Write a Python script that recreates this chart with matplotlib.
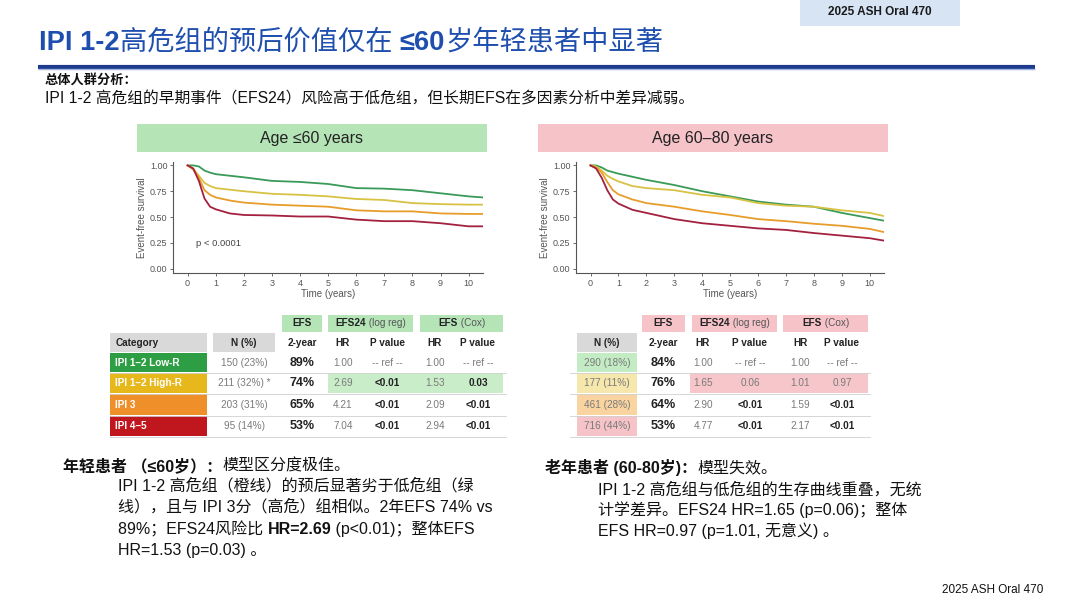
import matplotlib
matplotlib.use('Agg')
import matplotlib.pyplot as plt
from matplotlib.patches import Rectangle

plt.rcParams['font.family'] = ['Liberation Sans', 'Noto Sans CJK SC', 'DejaVu Sans']

# ---- KM curve data ----
t_years = [0, 0.2, 0.4, 0.6, 0.8, 1, 1.5, 2, 3, 4, 5, 6, 7, 8, 9, 10, 10.5]

young_low = [1, 1, 0.99, 0.95, 0.93, 0.915, 0.90, 0.885, 0.85, 0.84, 0.82, 0.78, 0.775, 0.76, 0.73, 0.70, 0.69]
young_high = [1, 0.97, 0.90, 0.83, 0.80, 0.78, 0.765, 0.75, 0.725, 0.715, 0.70, 0.675, 0.665, 0.635, 0.625, 0.62, 0.62]
young_ipi3 = [1, 0.96, 0.88, 0.76, 0.715, 0.69, 0.66, 0.64, 0.62, 0.61, 0.60, 0.565, 0.555, 0.555, 0.535, 0.53, 0.53]
young_ipi45 = [1, 0.97, 0.85, 0.68, 0.60, 0.575, 0.535, 0.52, 0.515, 0.505, 0.505, 0.475, 0.46, 0.46, 0.44, 0.41, 0.41]

old_low = [1, 1, 0.98, 0.95, 0.935, 0.92, 0.89, 0.86, 0.81, 0.75, 0.70, 0.65, 0.62, 0.60, 0.54, 0.49, 0.465]
old_high = [1, 0.99, 0.95, 0.90, 0.87, 0.845, 0.80, 0.78, 0.76, 0.715, 0.69, 0.635, 0.61, 0.60, 0.565, 0.54, 0.51]
old_ipi3 = [1, 0.98, 0.93, 0.84, 0.76, 0.72, 0.67, 0.635, 0.60, 0.555, 0.52, 0.48, 0.46, 0.435, 0.415, 0.385, 0.355]
old_ipi45 = [1, 0.97, 0.88, 0.76, 0.67, 0.63, 0.57, 0.54, 0.48, 0.44, 0.415, 0.39, 0.375, 0.345, 0.32, 0.295, 0.272]

# ---- table data ----
categories = ['IPI 1–2 Low-R', 'IPI 1–2 High-R', 'IPI 3', 'IPI 4–5']
young_n = ['150 (23%)', '211 (32%) *', '203 (31%)', '95 (14%)']
young_efs2 = ['89%', '74%', '65%', '53%']
young_hr24 = ['1.00', '2.69', '4.21', '7.04']
young_p24 = ['-- ref --', '<0.01', '<0.01', '<0.01']
young_hrcox = ['1.00', '1.53', '2.09', '2.94']
young_pcox = ['-- ref --', '0.03', '<0.01', '<0.01']

old_n = ['290 (18%)', '177 (11%)', '461 (28%)', '716 (44%)']
old_efs2 = ['84%', '76%', '64%', '53%']
old_hr24 = ['1.00', '1.65', '2.90', '4.77']
old_p24 = ['-- ref --', '0.06', '<0.01', '<0.01']
old_hrcox = ['1.00', '1.01', '1.59', '2.17']
old_pcox = ['-- ref --', '0.97', '<0.01', '<0.01']

# colores
curve_colors = ['#3a9a58', '#d8c244', '#e89d2a', '#a3203f']
cat_colors = ['#2e9e44', '#e6b81c', '#ef8f2a', '#c0161d']
old_n_colors = ['#c3ebc4', '#f6e7ad', '#f9d3a0', '#f6c4c8']
green_hdr = '#b5e5b7'
pink_hdr = '#f5c3c8'
gray_hdr = '#d9d9d9'
blue = '#1f4fae'
txt_gray = '#7a7a7a'
txt_dark = '#222222'
tfs = 7.2  # tamaño de letra de las tablas

fig = plt.figure(figsize=(10.8, 6.04), dpi=100)
bg = fig.add_axes([0, 0, 1, 1])
bg.set_xlim(0, 1080)
bg.set_ylim(604, 0)
bg.axis('off')
renderer = fig.canvas.get_renderer()


def text_width(text, size, bold):
    t = bg.text(0, 0, text, fontsize=size, fontweight='bold' if bold else 'normal')
    w = t.get_window_extent(renderer).width
    t.remove()
    return w


def runs(x, y, parts, size, color='#111111', center=False):
    """Escribe trozos de texto seguidos (normal/negrita) en una línea."""
    if center:
        x -= sum(text_width(p[0], size, p[1]) for p in parts) / 2
    for text, bold, *col in parts:
        t = bg.text(x, y, text, fontsize=size, va='center', ha='left',
                    fontweight='bold' if bold else 'normal',
                    color=col[0] if col else color)
        x += t.get_window_extent(renderer).width


# ---- cabecera ----
bg.add_patch(Rectangle((800, 0), 160, 26, facecolor='#d6e4f4', edgecolor='none'))
bg.text(880, 12, '2025 ASH Oral 470', fontsize=8.5, fontweight='bold', ha='center', va='center', color='#1a1a1a')
runs(39, 43, [('IPI 1-2', True), ('高危组的预后价值仅在 ', False), ('≤60', True), ('岁年轻患者中显著', False)],
     19.6, color=blue)
bg.plot([38, 1035], [66.5, 66.5], color='#1c3a8e', lw=3, solid_capstyle='butt')
bg.plot([38, 1035], [68.6, 68.6], color='#9db3e0', lw=1, solid_capstyle='butt')
bg.text(45, 80, '总体人群分析：', fontsize=9.5, fontweight='bold', va='center', color='#111111')
bg.text(45, 99, 'IPI 1-2 高危组的早期事件（EFS24）风险高于低危组，但长期EFS在多因素分析中差异减弱。',
        fontsize=11.3, va='center', color='#111111')

# ---- títulos de los paneles ----
bg.add_patch(Rectangle((137, 124), 350, 28, facecolor=green_hdr, edgecolor='none'))
bg.text(312, 138, 'Age ≤60 years', fontsize=11.5, ha='center', va='center', color='#222222')
bg.add_patch(Rectangle((538, 124), 350, 28, facecolor=pink_hdr, edgecolor='none'))
bg.text(713, 138, 'Age 60–80 years', fontsize=11.5, ha='center', va='center', color='#222222')


def km_panel(rect, curves, ptext=None):
    ax = fig.add_axes(rect)
    ax.patch.set_alpha(0)
    for s, c in zip(curves, curve_colors):
        ax.plot(t_years, s, color=c, lw=1.3)
    ax.set_xlim(-0.52, 10.51)
    ax.set_ylim(-0.042, 1.033)
    ax.set_xticks(range(0, 11))
    ax.set_yticks([0, 0.25, 0.5, 0.75, 1.0])
    ax.set_yticklabels(['0.00', '0.25', '0.50', '0.75', '1.00'])
    for sp in ['top', 'right']:
        ax.spines[sp].set_visible(False)
    for sp in ['left', 'bottom']:
        ax.spines[sp].set_color('#555555')
        ax.spines[sp].set_linewidth(0.8)
    ax.tick_params(labelsize=6.5, colors='#555555', length=2, width=0.6, pad=2)
    ax.set_xlabel('Time (years)', fontsize=7, color='#555555', labelpad=1)
    ax.set_ylabel('Event-free survival', fontsize=7, color='#555555', labelpad=2)
    if ptext:
        ax.text(0.3, 0.24, ptext, fontsize=6.8, color='#444444', va='center')
    return ax


km_panel([173 / 1080, 1 - 273 / 604, 310 / 1080, 111 / 604],
         [young_low, young_high, young_ipi3, young_ipi45], 'p < 0.0001')
km_panel([576 / 1080, 1 - 273 / 604, 308 / 1080, 111 / 604],
         [old_low, old_high, old_ipi3, old_ipi45])

# ---- tablas ----
row_y = [(353, 372), (373, 393), (394, 415), (416, 436)]


def is_bold(p):
    if p.startswith('<'):
        return True
    try:
        return float(p) < 0.05
    except ValueError:
        return False


def table(hdr_color, n_box, efs_box, e24_box, cox_box, cols, n_vals, efs2, hr24, p24, hrcox, pcox,
          hl_x, hl_color, line_x, cat_box=None, n_colors=None):
    # fila 1 de encabezado
    for (x0, x1), parts in [(efs_box, [('EFS', True)]),
                            (e24_box, [('EFS24', True), (' (log reg)', False)]),
                            (cox_box, [('EFS', True), (' (Cox)', False)])]:
        bg.add_patch(Rectangle((x0, 315), x1 - x0, 17, facecolor=hdr_color, edgecolor='none'))
        runs((x0 + x1) / 2, 323.5,
             [(p[0], p[1], txt_dark if p[1] else '#555555') for p in parts], tfs, center=True)
    # fila 2 de encabezado
    bg.add_patch(Rectangle((n_box[0], 333), n_box[1] - n_box[0], 19, facecolor=gray_hdr, edgecolor='none'))
    bg.text(sum(n_box) / 2, 342.5, 'N (%)', fontsize=tfs, fontweight='bold', ha='center', va='center', color=txt_dark)
    if cat_box:
        bg.add_patch(Rectangle((cat_box[0], 333), cat_box[1] - cat_box[0], 19, facecolor=gray_hdr, edgecolor='none'))
        bg.text(cat_box[0] + 6, 342.5, 'Category', fontsize=tfs, fontweight='bold', va='center', color=txt_dark)
    for cx, lab in zip(cols, ['2-year', 'HR', 'P value', 'HR', 'P value']):
        bg.text(cx, 342.5, lab, fontsize=tfs, fontweight='bold', ha='center', va='center', color=txt_dark)
    # resaltado de la fila 2
    bg.add_patch(Rectangle((hl_x[0], 373), hl_x[1] - hl_x[0], 20, facecolor=hl_color, edgecolor='none'))
    for i, (y0, y1) in enumerate(row_y):
        yc = (y0 + y1) / 2
        if cat_box:
            bg.add_patch(Rectangle((cat_box[0], y0), cat_box[1] - cat_box[0], y1 - y0,
                                   facecolor=cat_colors[i], edgecolor='none'))
            bg.text(cat_box[0] + 5, yc, categories[i], fontsize=tfs, fontweight='bold', va='center', color='white')
        if n_colors:
            bg.add_patch(Rectangle((n_box[0], y0), n_box[1] - n_box[0], y1 - y0,
                                   facecolor=n_colors[i], edgecolor='none'))
        bg.text(sum(n_box) / 2, yc, n_vals[i], fontsize=tfs, ha='center', va='center', color=txt_gray)
        bg.text(cols[0], yc, efs2[i], fontsize=9, fontweight='bold', ha='center', va='center', color=txt_dark)
        for cx, v, kind in [(cols[1], hr24[i], 'hr'), (cols[2], p24[i], 'p'),
                            (cols[3], hrcox[i], 'hr'), (cols[4], pcox[i], 'p')]:
            b = kind == 'p' and is_bold(v)
            bg.text(cx, yc, v, fontsize=tfs, ha='center', va='center',
                    fontweight='bold' if b else 'normal', color=txt_dark if b else txt_gray)
        bg.plot(line_x, [y1 + 0.5, y1 + 0.5], color='#d0d0d0', lw=0.6)


table(green_hdr, (213, 275), (282, 322), (328, 413), (420, 503),
      [302, 343, 387, 435, 478], young_n, young_efs2, young_hr24, young_p24, young_hrcox, young_pcox,
      (328, 503), '#c9edc9', [110, 506], cat_box=(110, 207))
table(pink_hdr, (577, 637), (642, 685), (692, 777), (783, 868),
      [663, 703, 750, 800, 842], old_n, old_efs2, old_hr24, old_p24, old_hrcox, old_pcox,
      (690, 868), '#f6c6ca', [570, 870], n_colors=old_n_colors)

# ---- texto inferior ----
fs = 11.5
runs(63, 466, [('年轻患者 （≤60岁）：', True), ('模型区分度极佳。', False)], fs)
bg.text(118, 486, 'IPI 1-2 高危组（橙线）的预后显著劣于低危组（绿', fontsize=fs, va='center', color='#111111')
bg.text(118, 507, '线），且与 IPI 3分（高危）组相似。2年EFS 74% vs', fontsize=fs, va='center', color='#111111')
runs(118, 529, [('89%；EFS24风险比 ', False), ('HR=2.69', True), (' (p<0.01)；整体EFS', False)], fs)
bg.text(118, 550, 'HR=1.53 (p=0.03) 。', fontsize=fs, va='center', color='#111111')

runs(545, 468, [('老年患者 (60-80岁)：', True), ('模型失效。', False)], fs)
bg.text(598, 490, 'IPI 1-2 高危组与低危组的生存曲线重叠，无统', fontsize=fs, va='center', color='#111111')
bg.text(598, 510, '计学差异。EFS24 HR=1.65 (p=0.06)；整体', fontsize=fs, va='center', color='#111111')
bg.text(598, 531, 'EFS HR=0.97 (p=1.01, 无意义) 。', fontsize=fs, va='center', color='#111111')

bg.text(1043, 590, '2025 ASH Oral 470', fontsize=8.5, ha='right', va='center', color='#111111')

fig.savefig('out.png', dpi=100)
